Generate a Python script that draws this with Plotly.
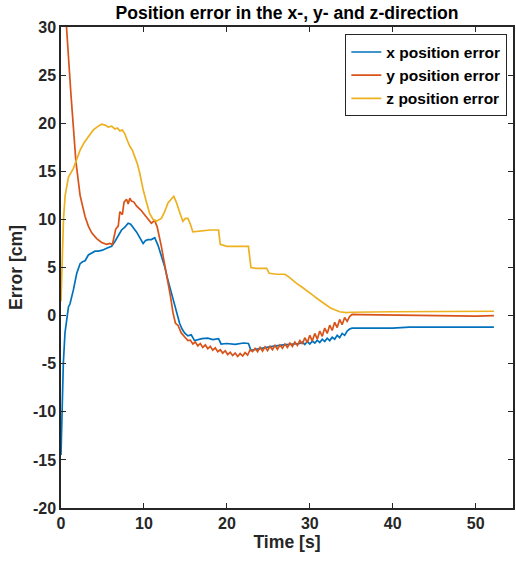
import plotly.graph_objects as go

# ---- data ----
x_time = [0, 0.1, 0.2, 0.28, 0.48, 0.7, 0.9, 1.08, 1.3, 1.5, 1.9, 2.3, 2.6, 2.9, 3.3, 3.7, 4.1, 4.5,
          5.0, 5.5, 6.1, 6.5, 6.9, 7.3, 7.7, 8.1, 8.4, 8.7, 9.1, 9.5, 9.9, 10.2, 10.5, 10.9, 11.3, 11.7,
          12.1, 12.5, 12.8, 13.1, 13.4, 13.7, 14.0, 14.3, 14.6, 14.9, 15.3, 15.7, 16.1, 16.5, 17.0, 17.7,
          18.3, 19.0, 19.3, 20.0, 21.0, 22.0, 22.6, 22.9, 23.5, 24.5, 25.5, 26.8, 28.0, 28.8,
          29.1, 29.4, 29.7, 30.0, 30.3, 30.6, 30.9, 31.2, 31.5, 31.8, 32.1, 32.4, 32.7, 33.0, 33.3,
          33.6, 33.9, 34.2, 34.5, 34.8, 35.1, 36, 40, 42, 45, 50, 52.2]
x_error = [-14.5, -10, -7, -5, -1.8, -0.2, 0.9, 1.2, 2.2, 2.7, 4.4, 5.4, 5.6, 5.7, 6.3, 6.5, 6.7, 6.7,
           6.8, 7.0, 7.2, 7.7, 8.3, 8.9, 9.2, 9.6, 9.5, 9.2, 8.7, 8.1, 7.5, 7.8, 7.9, 7.9, 8.1, 7.3,
           6.3, 5.1, 4.0, 3.0, 1.9, 0.9, 0.0, -0.8, -1.4, -1.8, -2.1, -2.0, -2.6, -2.5, -2.4, -2.35,
           -2.5, -2.4, -2.95, -2.9, -3.0, -2.85, -2.9, -3.6, -3.5, -3.4, -3.2, -3.05, -3.0, -2.9,
           -2.75, -3.0, -2.7, -2.95, -2.65, -2.85, -2.55, -2.8, -2.45, -2.7, -2.35, -2.6, -2.25, -2.45, -2.05,
           -2.3, -1.85, -2.05, -1.6, -1.4, -1.3, -1.3, -1.3, -1.2, -1.2, -1.2, -1.2]

y_time = [0.05, 0.65, 1.2, 1.8, 2.3, 2.9, 3.3, 3.7, 4.3, 4.9, 5.5, 5.9, 6.2, 6.4, 6.6, 6.9, 7.1, 7.4,
          7.6, 7.9, 8.1, 8.3, 8.5, 8.8, 9.1, 9.6, 10.1, 10.5, 10.9, 11.3, 11.6, 12.1, 12.5, 12.9, 13.2,
          13.5, 13.8, 14.1, 14.5, 15.0, 15.3,
          15.6, 15.9, 16.2, 16.5, 16.8, 17.1, 17.4, 17.7, 18.0, 18.3, 18.6, 18.9, 19.2, 19.5, 19.8,
          20.1, 20.4, 20.7, 21.0, 21.3, 21.6, 21.9, 22.2, 22.5, 22.8, 23.1, 23.4, 23.7, 24.0, 24.3,
          24.6, 24.9, 25.2, 25.5, 25.8, 26.1, 26.4, 26.7, 27.0, 27.3, 27.6, 27.9, 28.2, 28.5, 28.8,
          29.1, 29.4, 29.7, 30.0, 30.3, 30.6, 30.9, 31.2, 31.5, 31.8, 32.1, 32.4, 32.7, 33.0, 33.3,
          33.6, 33.9, 34.2, 34.5, 34.8, 35.1, 36, 40, 45, 50, 52.2]
y_error = [38, 30, 23, 16, 12.5, 10.3, 9.3, 8.6, 8.0, 7.6, 7.4, 7.5, 7.4, 8.2, 9.0, 9.3, 10.8, 10.5,
           11.8, 12.1, 11.6, 12.2, 11.9, 11.8, 11.4, 11.0, 10.5, 10.0, 9.6, 9.9, 9.2, 7.2, 5.4, 3.7, 2.0,
           0.3, -0.8, -1.0, -1.8, -2.3, -2.6,
           -2.55, -2.95, -2.75, -3.15, -2.9, -3.3, -3.05, -3.45, -3.2, -3.6, -3.35, -3.75, -3.55, -3.9, -3.65,
           -4.05, -3.8, -4.15, -3.9, -4.25, -3.95, -4.2, -3.85, -4.1, -3.55, -3.75, -3.4, -3.75, -3.3, -3.7,
           -3.25, -3.65, -3.2, -3.55, -3.1, -3.5, -3.05, -3.4, -2.95, -3.3, -2.85, -3.2, -2.75, -3.1, -2.6,
           -2.95, -2.3, -2.8, -2.05, -2.65, -1.85, -2.45, -1.6, -2.15, -1.3, -1.85, -1.0, -1.55, -0.7, -1.25,
           -0.4, -0.95, -0.2, -0.6, -0.1, 0.12, 0.1, 0.05, 0.0, -0.05, 0.0]

z_time = [0, 0.1, 0.16, 0.3, 0.5, 0.9, 1.5, 1.9, 2.3, 2.8, 3.3, 3.9, 4.5, 4.9, 5.3, 5.7, 6.1, 6.5,
          6.8, 7.1, 7.4, 7.7, 8.0, 8.3, 8.6, 8.9, 9.2, 9.5, 9.9, 10.3, 10.7, 11.1, 11.5, 12.1, 12.5,
          12.9, 13.3, 13.6, 13.9, 14.1, 14.4, 14.7, 15.0, 15.3, 15.6, 15.9, 17, 18, 19.0, 19.2, 20,
          21, 22.6, 22.9, 23.5, 24.8, 25.1, 26.0, 27.0, 27.5, 28.0, 28.4, 29.0, 29.5, 30.0, 30.4,
          31.0, 31.5, 32.0, 32.5, 33.0, 33.6, 34.4, 35, 40, 45, 50, 52.2]
z_error = [1.5, 4, 6.8, 10, 12.5, 14.4, 15.3, 16.2, 17.2, 18.0, 18.6, 19.3, 19.7, 19.9, 19.8, 19.6,
           19.7, 19.4, 19.5, 19.2, 19.3, 18.9, 18.2, 17.6, 17.2, 16.5, 15.8, 14.8, 13.1, 11.8, 10.6,
           10.0, 9.8, 10.1, 10.8, 11.7, 12.1, 12.4, 11.8, 11.2, 10.5, 9.8, 10.1, 10.1, 9.5, 8.7, 8.8,
           8.9, 8.9, 7.4, 7.2, 7.2, 7.2, 5.0, 4.9, 4.9, 4.4, 4.3, 4.3, 4.0, 3.6, 3.35, 3.0, 2.7, 2.4,
           2.1, 1.7, 1.4, 1.1, 0.8, 0.6, 0.4, 0.3, 0.35, 0.4, 0.4, 0.45, 0.45]

series_names = ["x position error", "y position error", "z position error"]
series_colors = ["#0072BD", "#D95319", "#EDB120"]
x_ticks = [0, 10, 20, 30, 40, 50]
y_ticks = [-20, -15, -10, -5, 0, 5, 10, 15, 20, 25, 30]

FONT = "Liberation Sans, Arial, Helvetica, sans-serif"
AX = "#262626"

fig = go.Figure()
for t, v, name, col in zip([x_time, y_time, z_time], [x_error, y_error, z_error],
                           series_names, series_colors):
    fig.add_trace(go.Scatter(x=t, y=v, mode="lines", name=f"<b>{name}</b>",
                             line=dict(color=col, width=1.7)))

axis_common = dict(showline=True, linewidth=1.5, linecolor=AX, mirror="ticks",
                   ticks="inside", ticklen=5, tickwidth=1.2, tickcolor=AX,
                   showgrid=False, zeroline=False, automargin=False,
                   tickfont=dict(family=FONT, size=16, color=AX),
                   title_font=dict(family=FONT, size=17.6, color=AX))

fig.update_layout(
    width=516, height=563,
    margin=dict(l=61, r=3, t=27, b=55),
    paper_bgcolor="white", plot_bgcolor="white",
    title=dict(text="<b>Position error in the x-, y- and z-direction</b>",
               x=(61 + 513) / 2 / 516, xanchor="center", y=1 - 13 / 563, yanchor="middle",
               automargin=False,
               font=dict(family=FONT, size=17.6, color="black")),
    xaxis=dict(range=[0, 54.5], tickvals=x_ticks,
               ticktext=[f"<b>{v}</b>" for v in x_ticks],
               title=dict(text="<b>Time [s]</b>", standoff=4), **axis_common),
    yaxis=dict(range=[-20, 30], tickvals=y_ticks,
               ticktext=[f"<b>{v}</b>" for v in y_ticks],
               title=dict(text="<b>Error [cm]</b>", standoff=6), **axis_common),
    legend=dict(x=0.987, xanchor="right", y=0.985, yanchor="top",
                bgcolor="white", bordercolor=AX, borderwidth=1.2,
                itemwidth=30, tracegroupgap=0,
                font=dict(family=FONT, size=15.5, color="black")),
    showlegend=True,
)

fig.write_html("out.html", config={"displayModeBar": False},
               post_script="document.body.style.margin='0';document.body.style.overflow='hidden';")
